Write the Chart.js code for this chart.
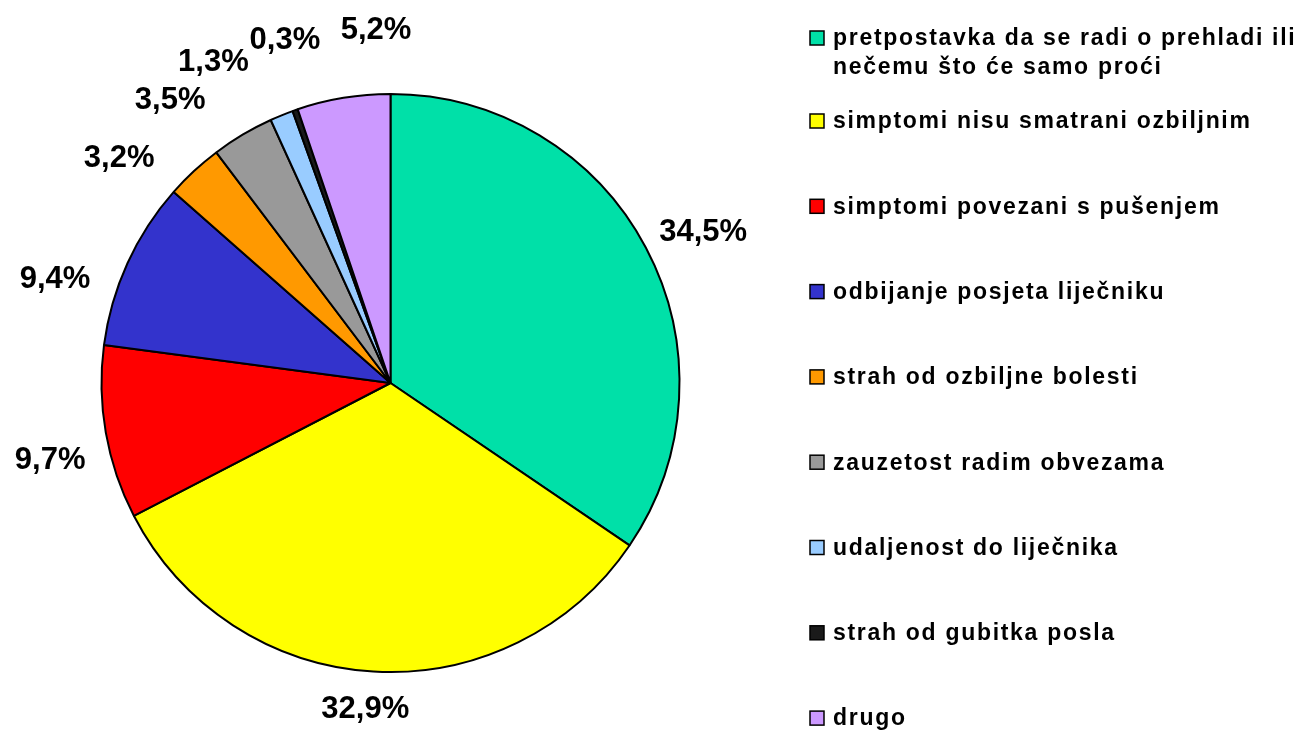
<!DOCTYPE html>
<html>
<head>
<meta charset="utf-8">
<script src="https://cdn.jsdelivr.net/npm/chart.js@4"></script>
<style>
  html, body { margin: 0; padding: 0; background: #fff; }
  #wrap { width: 1300px; height: 734px; position: relative; }
</style>
</head>
<body>
<div id="wrap"><canvas id="chart"></canvas></div>
<script>
'use strict';

// data
const categories = [
  ['pretpostavka da se radi o prehladi ili', 'nečemu što će samo proći'],
  ['simptomi nisu smatrani ozbiljnim'],
  ['simptomi povezani s pušenjem'],
  ['odbijanje posjeta liječniku'],
  ['strah od ozbiljne bolesti'],
  ['zauzetost radim obvezama'],
  ['udaljenost do liječnika'],
  ['strah od gubitka posla'],
  ['drugo']
];
const percentValues = [34.5, 32.9, 9.7, 9.4, 3.2, 3.5, 1.3, 0.3, 5.2];
const percentLabels = ['34,5%', '32,9%', '9,7%', '9,4%', '3,2%', '3,5%', '1,3%', '0,3%', '5,2%'];

const sliceColors = ['#00E0A8', '#FFFF00', '#FF0000', '#3333CC', '#FF9900',
  '#999999', '#99CCFF', '#1A1A1A', '#CC99FF'];

// label placement: angle shift (deg, clockwise) and distance beyond the rim
const labelShiftDeg = [2.2, 1, -2.9, -7.4, -7.6, -7.2, -6.8, 2.1, 7];
const labelGap = [58, 38, 60, 62, 63, 69, 77, 69, 64];

const FONT = '"Liberation Sans", Arial, sans-serif';

// labels + legend drawn by hand
const labelsPlugin = {
  id: 'pieLabels',
  afterDraw(chart) {
    const ctx = chart.ctx;
    const meta = chart.getDatasetMeta(0);
    ctx.save();
    ctx.fillStyle = '#000';
    ctx.font = 'bold 31px ' + FONT;
    ctx.textAlign = 'center';
    ctx.textBaseline = 'middle';
    meta.data.forEach((arc, i) => {
      const mid = (arc.startAngle + arc.endAngle) / 2 + labelShiftDeg[i] * Math.PI / 180;
      const r = arc.outerRadius + labelGap[i];
      const x = arc.x + Math.cos(mid) * r;
      const y = arc.y + Math.sin(mid) * r;
      ctx.fillText(percentLabels[i], x, y);
    });

    // legend
    ctx.font = 'bold 23px ' + FONT;
    ctx.letterSpacing = '1.7px';
    ctx.textAlign = 'left';
    for (let i = 0; i < categories.length; i++) {
      const y = i === 0 ? 38 : 121 + (i - 1) * 85.3;
      ctx.fillStyle = sliceColors[i];
      ctx.fillRect(810, y - 7, 14, 14);
      ctx.strokeStyle = '#000';
      ctx.lineWidth = 1.5;
      ctx.strokeRect(810, y - 7, 14, 14);
      ctx.fillStyle = '#000';
      categories[i].forEach((line, j) => {
        ctx.fillText(line, 833, y + 1 + j * 29);
      });
    }
    ctx.restore();
  }
};

const ctx = document.getElementById('chart').getContext('2d');
const pieChart = new Chart(ctx, {
  type: 'pie',
  data: {
    labels: categories.map(c => c.join(' ')),
    datasets: [{
      data: percentValues,
      backgroundColor: sliceColors,
      borderColor: '#000',
      borderWidth: 2
    }]
  },
  options: {
    responsive: true,
    maintainAspectRatio: false,
    animation: false,
    layout: {
      padding: { left: 100, right: 619, top: 93, bottom: 61 }
    },
    plugins: {
      legend: { display: false },
      tooltip: { enabled: false }
    }
  },
  plugins: [labelsPlugin]
});
</script>
</body>
</html>
